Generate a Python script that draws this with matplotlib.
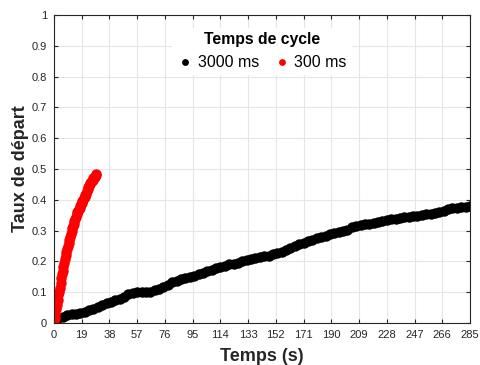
import numpy as np
import matplotlib
matplotlib.use('Agg')
import matplotlib.pyplot as plt

plt.rcParams['font.family'] = ['Liberation Sans', 'DejaVu Sans']

# temps de cycle 3000 ms (un point toutes les 3 s)
t_3000 = np.arange(0, 286, 3)
taux_3000 = [0.000, 0.015, 0.020, 0.026, 0.028, 0.030, 0.033, 0.036, 0.041, 0.047,
             0.052, 0.057, 0.064, 0.069, 0.074, 0.079, 0.086, 0.095, 0.098, 0.100,
             0.100, 0.100, 0.102, 0.106, 0.110, 0.116, 0.122, 0.132, 0.138, 0.142,
             0.146, 0.150, 0.153, 0.158, 0.163, 0.168, 0.172, 0.177, 0.181, 0.186,
             0.190, 0.193, 0.196, 0.200, 0.204, 0.207, 0.210, 0.213, 0.216, 0.219,
             0.223, 0.227, 0.232, 0.238, 0.244, 0.250, 0.256, 0.261, 0.266, 0.270,
             0.275, 0.279, 0.284, 0.289, 0.292, 0.295, 0.298, 0.303, 0.312, 0.316,
             0.318, 0.320, 0.322, 0.324, 0.327, 0.330, 0.334, 0.337, 0.339, 0.341,
             0.343, 0.344, 0.346, 0.349, 0.351, 0.353, 0.355, 0.357, 0.360, 0.364,
             0.369, 0.372, 0.374, 0.376, 0.378, 0.381]

# temps de cycle 300 ms (un point toutes les 0.5 s)
t_300 = np.arange(0, 29.1, 0.5)
taux_300 = [0.000, 0.015, 0.030, 0.046, 0.060, 0.076, 0.090, 0.102, 0.115, 0.130,
            0.145, 0.158, 0.170, 0.183, 0.195, 0.208, 0.220, 0.230, 0.240, 0.250,
            0.260, 0.270, 0.280, 0.290, 0.300, 0.308, 0.315, 0.323, 0.330, 0.338,
            0.345, 0.353, 0.360, 0.365, 0.370, 0.375, 0.380, 0.385, 0.390, 0.395,
            0.400, 0.405, 0.410, 0.415, 0.420, 0.428, 0.435, 0.440, 0.445, 0.450,
            0.455, 0.458, 0.460, 0.465, 0.470, 0.472, 0.475, 0.480, 0.485]

fig = plt.figure(figsize=(4.8, 3.65), dpi=100)
ax = fig.add_axes([0.1125, 0.115, 0.8667, 0.844])

ax.plot(t_3000, taux_3000, 'o', color='black', markersize=6.5, label='3000 ms')
ax.plot(t_300, taux_300, 'o', color='red', markersize=6.5, label='300 ms')

ax.set_xlim(0, 285)
ax.set_ylim(0, 1)
ax.set_xticks(np.arange(0, 286, 19))
ax.set_yticks(np.arange(0, 1.01, 0.1))
ax.set_yticklabels(['0', '0.1', '0.2', '0.3', '0.4', '0.5', '0.6', '0.7', '0.8', '0.9', '1'])
ax.grid(True, color='#e6e6e6', linewidth=0.8)
ax.set_axisbelow(True)
ax.tick_params(direction='in', length=3, width=0.8, top=True, right=True,
               labelsize=8, colors='#262626', pad=5)
for s in ax.spines.values():
    s.set_color('#262626')
    s.set_linewidth(0.8)

ax.set_xlabel('Temps (s)', fontsize=13, fontweight='bold', color='#262626', labelpad=6)
ax.set_ylabel('Taux de départ', fontsize=13, fontweight='bold', color='#262626', labelpad=2)

leg = ax.legend(title='Temps de cycle', ncol=2, loc='upper center',
                bbox_to_anchor=(0.50, 0.985), frameon=True, fontsize=11.5,
                markerscale=0.6, handlelength=1.0, handletextpad=0.3,
                columnspacing=0.9, borderpad=0.3)
leg.get_title().set_fontweight('bold')
leg.get_title().set_fontsize(11.3)
leg.get_frame().set_edgecolor('none')
leg.get_frame().set_facecolor('white')
leg.get_frame().set_alpha(1)

fig.savefig('out.png', dpi=100)
